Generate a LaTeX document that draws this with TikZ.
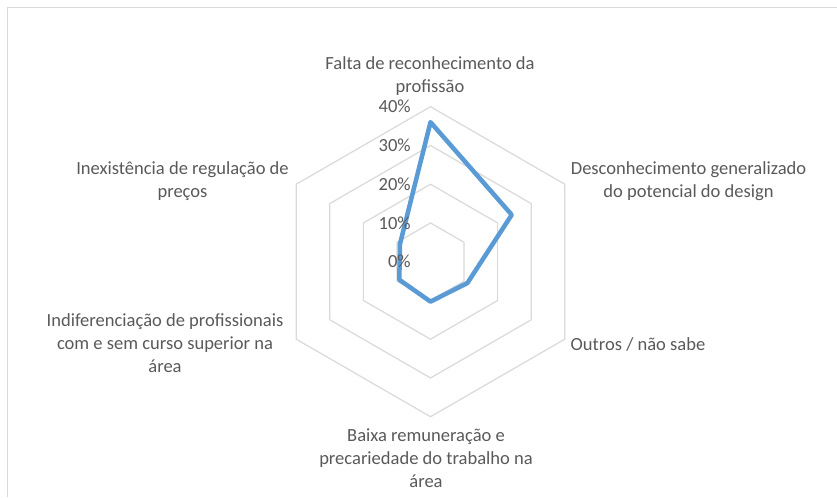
\documentclass[tikz,border=0pt]{standalone}
\usepackage{fontspec}
\setmainfont{Carlito}
\usetikzlibrary{calc}
\definecolor{gridgray}{HTML}{D9D9D9}
\definecolor{txtgray}{HTML}{595959}
\definecolor{serieblue}{HTML}{5B9BD5}
\begin{document}
\begin{tikzpicture}[x=0.75pt,y=-0.75pt,
  lbl/.style={text=txtgray,font=\fontsize{13.9}{17.2}\selectfont,align=center,inner sep=0pt},
  ticklbl/.style={lbl,anchor=east},
  gridline/.style={gridgray,line width=0.9pt},
  serie/.style={serieblue,line width=3.4pt,line join=round}]
  \useasboundingbox (0,0) rectangle (837,497);
  % chart frame
  \draw [gridgray,line width=0.75pt] (7,497)--(7,7)--(837,7);
  % hexagon grid
  \begin{scope}[shift={(430.5,261.7)}]
    \foreach \r in {1,...,4}
      \draw [gridline] (-90:\r*38.75)--(-30:\r*38.75)--(30:\r*38.75)--(90:\r*38.75)--(150:\r*38.75)--(210:\r*38.75)--cycle;
    \coordinate (ctr) at (0,0);
    % data points
    \coordinate (falta) at (-90:36*3.875);
    \coordinate (desc) at (-30:24.2*3.875);
    \coordinate (outros) at (30:11*3.875);
    \coordinate (baixa) at (90:10.3*3.875);
    \coordinate (indif) at (150:9.3*3.875);
    \coordinate (inex) at (210:9.1*3.875);
  \end{scope}
  \draw [serie] (falta)--(desc)--(outros)--(baixa)--(indif)--(inex)--cycle;
  % axis values
  \foreach \v/\n in {0/t0,1/t10,2/t20,3/t30,4/t40}
    \node [ticklbl] (\n) at (411,261.7-\v*38.75) {\pgfmathparse{int(\v*10)}\pgfmathresult\%};
  % category labels
  \node [lbl] (lfalta) at (430,76) {Falta de reconhecimento da\\profissão};
  \node [lbl] (ldesc) at (688.5,181.5) {Desconhecimento generalizado\\do potencial do design};
  \node [lbl] (loutros) at (638,344) {Outros / não sabe};
  \node [lbl] (lbaixa) at (426,458.5) {Baixa remuneração e\\precariedade do trabalho na\\área};
  \node [lbl] (lindif) at (165,343) {Indiferenciação de profissionais\\com e sem curso superior na\\área};
  \node [lbl] (linex) at (182.5,181.5) {Inexistência de regulação de\\preços};
\end{tikzpicture}
\end{document}
